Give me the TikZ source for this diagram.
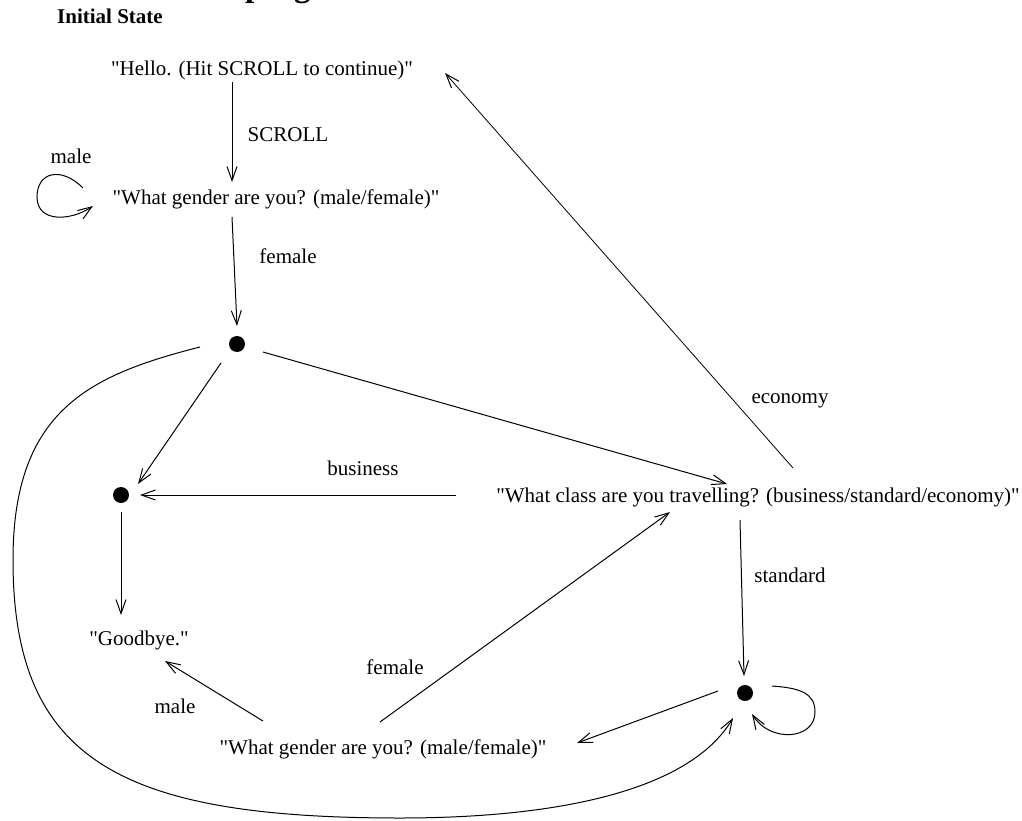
\documentclass[tikz,border=0pt]{standalone}
\usepackage{fontspec}
\setmainfont{Liberation Serif}[Ligatures=TeXOff]
\usetikzlibrary{arrows.meta,calc}
\begin{document}
\begin{tikzpicture}[x=1pt,y=-1pt,
  lbl/.style={inner sep=0pt,font=\fontsize{21}{24}\selectfont},
  dotnode/.style={circle,fill=black,inner sep=0pt,minimum size=16pt},
  conn/.style={line width=1pt,-{Straight Barb[length=14pt,width=10pt,line width=1pt]}},
  thin conn/.style={conn,line width=0.8pt}]
\useasboundingbox (0,0) rectangle (1022,821);
\begin{scope}
\clip (0,0) rectangle (1022,821);
\node[anchor=base west,inner sep=0pt,font=\fontsize{33}{36}\selectfont\bfseries] (title) at (245,-3) {program};
\end{scope}
% state texts
\node[lbl,font=\fontsize{21}{24}\selectfont\bfseries] (init) at (110,16) {Initial State};
\node[lbl] (hello) at (262,70) {"Hello. (Hit SCROLL to continue)"};
\node[lbl] (g1) at (276,199) {"What gender are you? (male/female)"};
\node[lbl] (class) at (758,497) {"What class are you travelling? (business/standard/economy)"};
\node[lbl] (bye) at (139,640) {"Goodbye."};
\node[lbl] (g2) at (383,749) {"What gender are you? (male/female)"};
% dots
\node[dotnode] (d1) at (237,344) {};
\node[dotnode] (d2) at (121,495) {};
\node[dotnode] (d3) at (745,693) {};
% labels
\node[lbl] (lscroll) at (288,135) {SCROLL};
\node[lbl] (lmale1) at (71,156) {male};
\node[lbl] (lfemale1) at (288,256) {female};
\node[lbl] (lecon) at (790,401) {economy};
\node[lbl] (lbus) at (363,468) {business};
\node[lbl] (lstd) at (790,575) {standard};
\node[lbl] (lfemale2) at (395,667) {female};
\node[lbl] (lmale2) at (175,706) {male};
% connectors
\draw[conn] ($(hello)+(-30,12)$) -- ($(g1)+(-44,-17)$);
\draw[conn] ($(g1)+(-193,-11)$) .. controls ($(g1)+(-215,-33)$) and ($(g1)+(-239,-27)$) .. ($(g1)+(-239,-2)$)
   .. controls ($(g1)+(-239,24)$) and ($(g1)+(-205,22)$) .. ($(g1)+(-183,7)$);
\draw[conn] ($(g1)+(-44,18)$) -- ($(d1)+(0,-18)$);
\draw[conn] ($(d1)+(-16,19)$) -- ($(d2)+(17,-11)$);
\draw[conn] ($(d1)+(26,8)$) -- ($(class)+(-31,-13)$);
\draw[conn] ($(class)+(-302,-2)$) -- ($(d2)+(19,0)$);
\draw[thin conn] ($(class)+(35,-29)$) -- ($(hello)+(183,3)$);
\draw[conn] ($(class)+(-18,23)$) -- ($(d3)+(-1,-17)$);
\draw[conn] ($(d3)+(27,-7)$) .. controls ($(d3)+(55,-5)$) and ($(d3)+(70,0)$) .. ($(d3)+(70,19)$)
   .. controls ($(d3)+(70,47)$) and ($(d3)+(25,50)$) .. ($(d3)+(7,21)$);
\draw[conn] ($(d3)+(-27,-2)$) -- ($(g2)+(194,-6)$);
\draw[conn] ($(g2)+(-120,-28)$) -- ($(bye)+(26,21)$);
\draw[conn] ($(g2)+(-3,-27)$) -- ($(class)+(-88,15)$);
\draw[conn] ($(d2)+(0,17)$) -- ($(bye)+(-18,-25)$);
\draw[conn] ($(d1)+(-37,3)$) .. controls (90,375) and (13,410) .. (13,560)
   .. controls (13,760) and (120,818) .. (400,818)
   .. controls (560,818) and (690,790) .. ($(d3)+(-12,25)$);
\end{tikzpicture}
\end{document}
